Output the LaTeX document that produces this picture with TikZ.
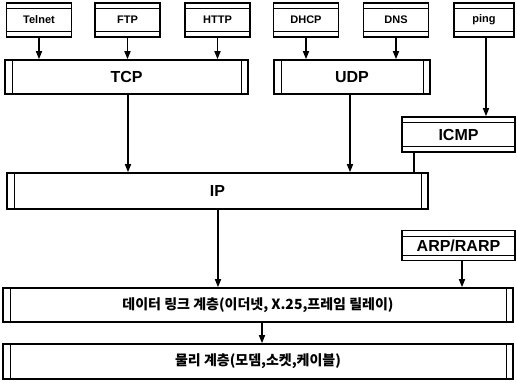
\documentclass[tikz,border=0pt]{standalone}
\usepackage{fontspec}
\setmainfont{Liberation Sans}
\newfontfamily\kr{Noto Sans CJK KR}
\usetikzlibrary{arrows.meta,calc}
\begin{document}
\begin{tikzpicture}[x=1pt,y=-1pt,
  box/.style={draw, line width=1.6pt, inner sep=0pt, font=\bfseries},
  hband/.style={box, path picture={
     \draw[line width=0.9pt] ([yshift=-5.5pt]path picture bounding box.north west) -- ([yshift=-5.5pt]path picture bounding box.north east);
     \draw[line width=0.9pt] ([yshift=5.5pt]path picture bounding box.south west) -- ([yshift=5.5pt]path picture bounding box.south east);}},
  vband/.style={box, path picture={
     \draw[line width=0.9pt] ([xshift=7pt]path picture bounding box.north west) -- ([xshift=7pt]path picture bounding box.south west);
     \draw[line width=0.9pt] ([xshift=-7pt]path picture bounding box.north east) -- ([xshift=-7pt]path picture bounding box.south east);}},
  appbox/.style={hband, minimum width=65pt, minimum height=34pt, font=\bfseries\fontsize{11}{13}\selectfont},
  bigtxt/.style={font=\bfseries\fontsize{16}{18}\selectfont},
  krtxt/.style={font=\kr\bfseries\fontsize{14}{16}\selectfont},
  arr/.style={line width=1.5pt, -{Triangle[length=8pt,width=6pt]}},
  ln/.style={line width=1.5pt}
]
\useasboundingbox (0,0) rectangle (517,384);
% application boxes
\node[appbox] (telnet) at (39,20) {Telnet};
\node[appbox] (ftp) at (127.5,20) {FTP};
\node[appbox] (http) at (217.5,20) {HTTP};
\node[appbox] (dhcp) at (306,20) {DHCP};
\node[appbox] (dns) at (396,20) {DNS};
\node[appbox, minimum width=60pt] (ping) at (484,20) {ping};
% transport
\node[vband, bigtxt, minimum width=243pt, minimum height=34pt] (tcp) at (126.5,77) {TCP};
\node[vband, bigtxt, minimum width=156pt, minimum height=34pt] (udp) at (352,77) {UDP};
% ICMP
\node[hband, bigtxt, minimum width=113pt, minimum height=35pt] (icmp) at (458.5,134.5) {ICMP};
% IP
\node[vband, bigtxt, minimum width=421pt, minimum height=36pt] (ip) at (217.5,191) {IP};
% ARP
\node[hband, bigtxt, minimum width=113pt, minimum height=30pt] (arp) at (458.5,245.5) {ARP/RARP};
% data link & physical
\node[vband, krtxt, minimum width=510pt, minimum height=34pt] (dl) at (258,305) {데이터 링크 계층(이더넷, X.25,프레임 릴레이)};
\node[vband, krtxt, minimum width=510pt, minimum height=35pt] (phy) at (258,361.5) {물리 계층(모뎀,소켓,케이블)};
% connectors
\foreach \a in {telnet,ftp,http}{\draw[arr] (\a.south) -- (\a.south |- tcp.north);}
\foreach \a in {dhcp,dns}{\draw[arr] (\a.south) -- (\a.south |- udp.north);}
\draw[arr] ([xshift=2pt]ping.south) -- ([xshift=2pt]ping.south |- icmp.north);
\draw[arr] ([xshift=1.5pt]tcp.south) -- ([xshift=1.5pt]tcp.south |- ip.north);
\draw[arr] ([xshift=-2pt]udp.south) -- ([xshift=-2pt]udp.south |- ip.north);
\coordinate (icmpout) at ($(icmp.south west)+(13,0)$);
\draw[ln] (icmpout) -- (icmpout |- ip.north);
\draw[arr] ([xshift=0.5pt]ip.south) -- ([xshift=0.5pt]ip.south |- dl.north);
\draw[arr] ([xshift=3.5pt]arp.south) -- ([xshift=3.5pt]arp.south |- dl.north);
\draw[arr] ([xshift=4pt]dl.south) -- ([xshift=4pt]dl.south |- phy.north);
\end{tikzpicture}
\end{document}
